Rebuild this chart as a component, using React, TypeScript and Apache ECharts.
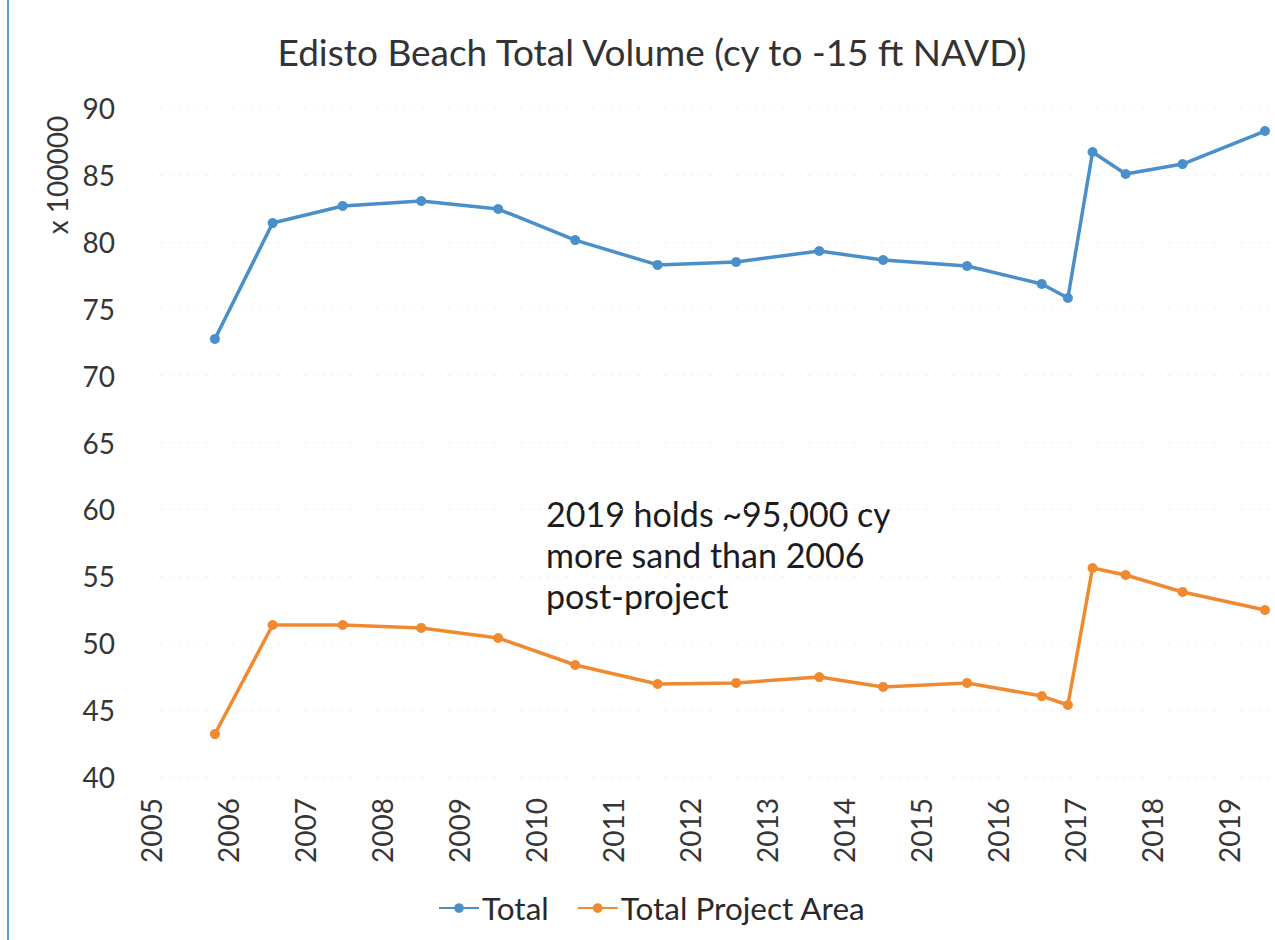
import React, { useEffect, useRef } from "react";
import * as echarts from "echarts";

const surveyYears = [2005.83, 2006.58, 2007.49, 2008.51, 2009.51, 2010.51, 2011.58, 2012.6, 2013.68, 2014.51, 2015.6, 2016.57, 2016.91, 2017.23, 2017.66, 2018.4, 2019.47];
const totalVolume = [72.74, 81.4, 82.68, 83.05, 82.45, 80.13, 78.27, 78.49, 79.31, 78.64, 78.19, 76.85, 75.8, 86.71, 85.07, 85.81, 88.28];
const projectAreaVolume = [43.21, 51.36, 51.36, 51.14, 50.39, 48.37, 46.95, 47.03, 47.47, 46.73, 47.03, 46.05, 45.38, 55.62, 55.1, 53.83, 52.48];
const seriesNames = ["Total", "Total Project Area"];
const titleText = "Edisto Beach Total Volume (cy to -15 ft NAVD)";
const unitsText = "x 100000";
const noteLines = ["2019 holds ~95,000 cy", "more sand than 2006", "post-project"];

const FONT = "Lato, 'Open Sans', sans-serif";

export default function App() {
  const ref = useRef<HTMLDivElement>(null);
  useEffect(() => {
    if (!ref.current) return;
    const chart = echarts.init(ref.current, null, { renderer: "svg" });
    const pair = (vals: number[]) => surveyYears.map((y, i) => [y, vals[i]]);
    chart.setOption({
      animation: false,
      backgroundColor: "#ffffff",
      textStyle: { fontFamily: FONT },
      grid: { left: 151, top: 108, width: 1124, height: 669, containLabel: false },
      xAxis: {
        type: "value",
        min: 2005,
        max: 2019.6,
        interval: 1,
        axisLine: { show: false },
        axisTick: { show: false },
        splitLine: { show: false },
        axisLabel: {
          rotate: 90,
          margin: 21,
          fontSize: 28,
          color: "#363636",
          fontFamily: FONT,
          formatter: (v: number) => (Number.isInteger(v) ? String(v) : ""),
        },
      },
      yAxis: {
        type: "value",
        min: 40,
        max: 90,
        interval: 5,
        axisLine: { show: false },
        axisTick: { show: false },
        splitLine: { show: true, lineStyle: { color: "#f2f2f2", width: 1, type: [3, 6] } },
        axisLabel: { margin: 36, fontSize: 28, color: "#363636", fontFamily: FONT },
      },
      legend: {
        left: 433,
        top: 887,
        itemWidth: 40,
        itemHeight: 12,
        itemGap: 28,
        textStyle: { fontSize: 31.5, color: "#2a2a2a", fontFamily: FONT, padding: [0, 0, 0, -2] },
        data: seriesNames,
      },
      series: [
        {
          name: seriesNames[0],
          type: "line",
          data: pair(totalVolume),
          symbol: "circle",
          symbolSize: 10,
          itemStyle: { color: "#4a8fca" },
          lineStyle: { color: "#4a8fca", width: 3.5 },
        },
        {
          name: seriesNames[1],
          type: "line",
          data: pair(projectAreaVolume),
          symbol: "circle",
          symbolSize: 10,
          itemStyle: { color: "#ef8a30" },
          lineStyle: { color: "#ef8a30", width: 3.5 },
        },
      ],
      graphic: [
        {
          type: "line",
          shape: { x1: 8, y1: 0, x2: 8, y2: 940 },
          style: { stroke: "#5f9fd6", lineWidth: 2 },
        },
        {
          type: "text",
          x: 652,
          y: 51,
          style: { text: titleText, fontSize: 37, fill: "#333333", fontFamily: FONT, align: "center", verticalAlign: "middle" },
        },
        {
          type: "text",
          x: 57,
          y: 175,
          rotation: Math.PI / 2,
          style: { text: unitsText, fontSize: 28, fill: "#363636", fontFamily: FONT, align: "center", verticalAlign: "middle" },
        },
        {
          type: "text",
          x: 546,
          y: 493,
          style: {
            text: noteLines.join("\n"),
            fontSize: 34,
            lineHeight: 41,
            fill: "#1c1c1c",
            fontFamily: FONT,
            align: "left",
            verticalAlign: "top",
          },
        },
      ],
    });
    return () => chart.dispose();
  }, []);
  return <div ref={ref} style={{ position: "absolute", left: 0, top: 0, width: 1275, height: 940 }} />;
}
